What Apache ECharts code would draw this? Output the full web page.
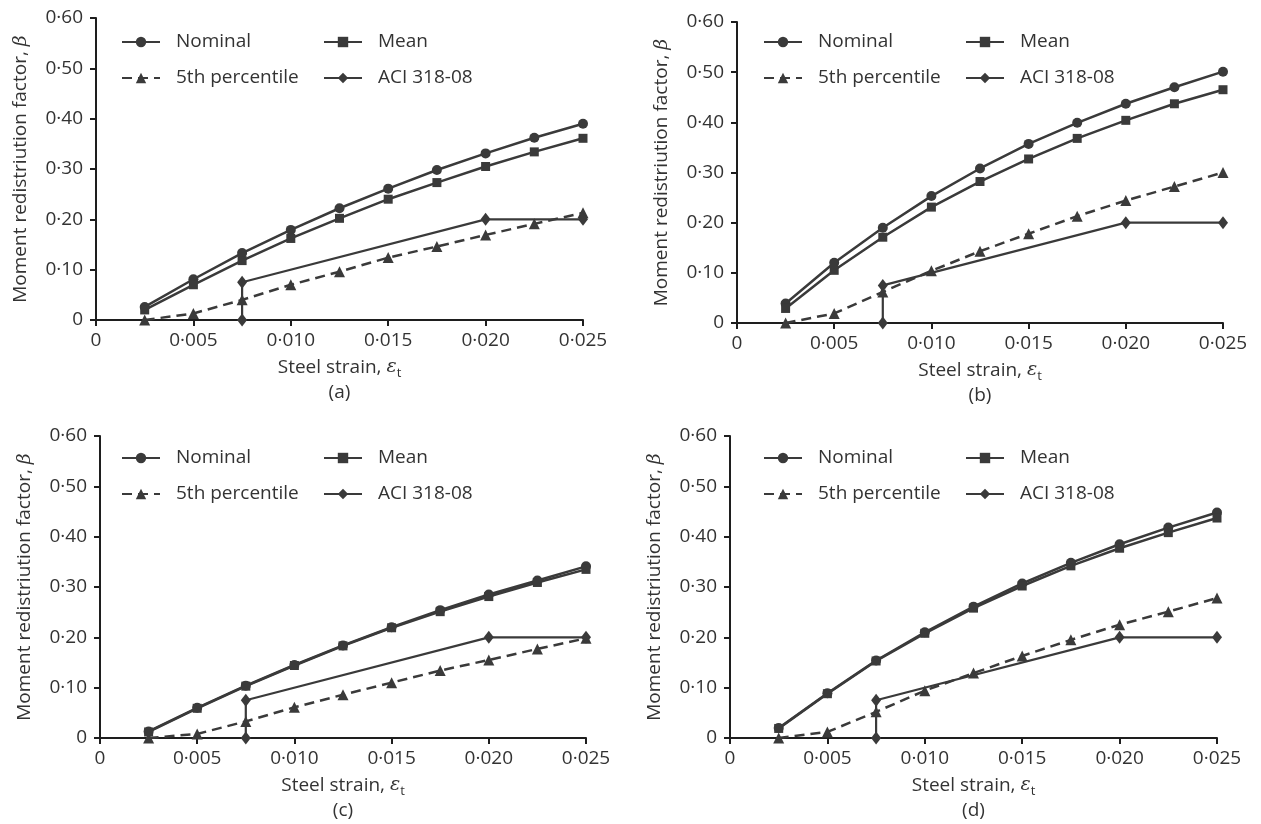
<!DOCTYPE html>
<html>
<head>
<meta charset="utf-8">
<script src="https://cdn.jsdelivr.net/npm/echarts@6/dist/echarts.min.js"></script>
<style>html,body{margin:0;padding:0;background:#fff}#c{width:1261px;height:824px}</style>
</head>
<body>
<div id="c"></div>
<script>
// ---- data ----
const strain = [0.0025, 0.005, 0.0075, 0.01, 0.0125, 0.015, 0.0175, 0.02, 0.0225, 0.025];
const panelLabels = ['(a)', '(b)', '(c)', '(d)'];
const seriesNames = ['Nominal', 'Mean', '5th percentile', 'ACI 318-08'];

const nominalA = [0.026, 0.081, 0.133, 0.179, 0.222, 0.261, 0.298, 0.331, 0.362, 0.390];
const meanA    = [0.020, 0.070, 0.118, 0.162, 0.202, 0.240, 0.273, 0.305, 0.334, 0.361];
const p5A      = [0.000, 0.013, 0.040, 0.070, 0.096, 0.124, 0.146, 0.169, 0.191, 0.213];

const nominalB = [0.039, 0.120, 0.190, 0.253, 0.308, 0.357, 0.399, 0.437, 0.470, 0.501];
const meanB    = [0.029, 0.105, 0.171, 0.231, 0.282, 0.327, 0.368, 0.404, 0.437, 0.465];
const p5B      = [0.000, 0.019, 0.062, 0.104, 0.143, 0.178, 0.213, 0.244, 0.272, 0.300];

const nominalC = [0.013, 0.060, 0.104, 0.145, 0.184, 0.220, 0.254, 0.285, 0.313, 0.341];
const meanC    = [0.012, 0.059, 0.103, 0.144, 0.183, 0.219, 0.251, 0.281, 0.309, 0.335];
const p5C      = [0.000, 0.008, 0.033, 0.061, 0.086, 0.110, 0.134, 0.155, 0.177, 0.198];

const nominalD = [0.020, 0.089, 0.154, 0.210, 0.261, 0.307, 0.348, 0.385, 0.418, 0.448];
const meanD    = [0.019, 0.088, 0.153, 0.208, 0.258, 0.302, 0.342, 0.377, 0.408, 0.437];
const p5D      = [0.000, 0.012, 0.052, 0.094, 0.129, 0.163, 0.195, 0.225, 0.251, 0.278];

const aciX = [0.0075, 0.0075, 0.02, 0.025];
const aciY = [0.000, 0.075, 0.200, 0.200];

const xTickLabels = ['0', '0·005', '0·010', '0·015', '0·020', '0·025'];
const yTickLabels = ['0', '0·10', '0·20', '0·30', '0·40', '0·50', '0·60'];

// ---- layout ----
const panels = [
  {grid: {left: 96, top: 18, width: 487, height: 302}, nominal: nominalA, mean: meanA, p5: p5A,
   legCol1: [121, 32], legCol2: [323, 32]},
  {grid: {left: 737, top: 22, width: 486, height: 301}, nominal: nominalB, mean: meanB, p5: p5B,
   legCol1: [763, 32], legCol2: [965, 32]},
  {grid: {left: 100, top: 436, width: 486, height: 302}, nominal: nominalC, mean: meanC, p5: p5C,
   legCol1: [121, 448], legCol2: [323, 448]},
  {grid: {left: 730, top: 436, width: 487, height: 302}, nominal: nominalD, mean: meanD, p5: p5D,
   legCol1: [763, 448], legCol2: [965, 448]}
];

const FONT = 'Open Sans';
const TXT = '#333';
const LINE = '#3a3a3a';
const AX = '#1e1e1e';

function zip(xs, ys) { return xs.map((x, i) => [x, ys[i]]); }

const grids = [], xAxes = [], yAxes = [], series = [], legends = [];
panels.forEach((p, i) => {
  grids.push(Object.assign({containLabel: false}, p.grid));
  xAxes.push({
    type: 'value', gridIndex: i, min: 0, max: 0.025, interval: 0.005,
    axisLine: {show: true, onZero: false, lineStyle: {color: AX, width: 2}},
    axisTick: {show: true, length: 6, lineStyle: {color: AX, width: 2}},
    splitLine: {show: false},
    axisLabel: {margin: 11, fontFamily: FONT, fontSize: 19, color: TXT,
      formatter: (v) => xTickLabels[Math.round(v / 0.005)]},
    name: '{n|Steel strain, }{e|ε}{s|t}\n{n|' + panelLabels[i] + '}',
    nameLocation: 'middle', nameGap: 35,
    nameTextStyle: {
      fontFamily: FONT, fontSize: 19, color: TXT, lineHeight: 25,
      rich: {
        n: {fontFamily: FONT, fontSize: 19, color: TXT, lineHeight: 25},
        e: {fontFamily: 'DejaVu Serif', fontStyle: 'italic', fontSize: 19, color: TXT, lineHeight: 25},
        s: {fontFamily: FONT, fontSize: 13, color: TXT, lineHeight: 13, verticalAlign: 'bottom'}
      }
    }
  });
  yAxes.push({
    type: 'value', gridIndex: i, min: 0, max: 0.6, interval: 0.1,
    axisLine: {show: true, lineStyle: {color: AX, width: 2}},
    axisTick: {show: true, length: 6, lineStyle: {color: AX, width: 2}},
    splitLine: {show: false},
    axisLabel: {margin: 13, fontFamily: FONT, fontSize: 19, color: TXT,
      formatter: (v) => yTickLabels[Math.round(v / 0.1)]},
    name: '{n|Moment redistriution factor, }{b|β}',
    nameLocation: 'middle', nameGap: 63,
    nameTextStyle: {
      fontFamily: FONT, fontSize: 19, color: TXT,
      rich: {
        n: {fontFamily: FONT, fontSize: 19, color: TXT, lineHeight: 24},
        b: {fontFamily: 'DejaVu Serif', fontStyle: 'italic', fontSize: 19, color: TXT, lineHeight: 24}
      }
    }
  });
  series.push({
    name: seriesNames[0], type: 'line', xAxisIndex: i, yAxisIndex: i,
    data: zip(strain, p.nominal), symbol: 'circle', symbolSize: 10,
    lineStyle: {color: LINE, width: 2.5}, itemStyle: {color: LINE}, z: 4
  });
  series.push({
    name: seriesNames[1], type: 'line', xAxisIndex: i, yAxisIndex: i,
    data: zip(strain, p.mean), symbol: 'rect', symbolSize: 9,
    lineStyle: {color: LINE, width: 2.5}, itemStyle: {color: LINE}, z: 4
  });
  series.push({
    name: seriesNames[2], type: 'line', xAxisIndex: i, yAxisIndex: i,
    data: zip(strain, p.p5), symbol: 'triangle', symbolSize: 11,
    lineStyle: {color: LINE, width: 2.5, type: [10, 6]}, itemStyle: {color: LINE}, z: 3
  });
  series.push({
    name: seriesNames[3], type: 'line', xAxisIndex: i, yAxisIndex: i,
    data: zip(aciX, aciY), symbol: 'diamond', symbolSize: [10, 13],
    lineStyle: {color: LINE, width: 2.2}, itemStyle: {color: LINE}, z: 3
  });
  const legCommon = {
    orient: 'vertical', padding: 0, itemGap: 16, itemWidth: 38, itemHeight: 13,
    selectedMode: false,
    textStyle: {fontFamily: FONT, fontSize: 19, color: TXT, padding: [0, 0, 0, 11], lineHeight: 20}
  };
  legends.push(Object.assign({left: p.legCol1[0], top: p.legCol1[1], data: [seriesNames[0], seriesNames[2]]}, legCommon));
  legends.push(Object.assign({left: p.legCol2[0], top: p.legCol2[1], data: [seriesNames[1], seriesNames[3]]}, legCommon));
});

const chart = echarts.init(document.getElementById('c'), null, {renderer: 'canvas'});
chart.setOption({
  backgroundColor: '#fff',
  animation: false,
  grid: grids, xAxis: xAxes, yAxis: yAxes, legend: legends, series: series
});
</script>
</body>
</html>
